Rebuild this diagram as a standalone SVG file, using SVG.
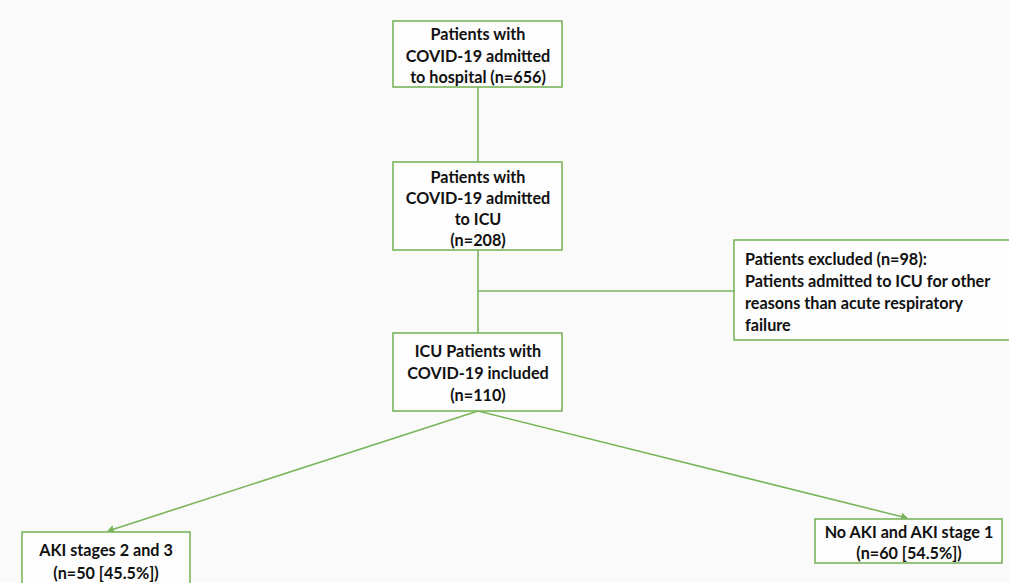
<svg xmlns="http://www.w3.org/2000/svg" width="1009" height="583" viewBox="0 0 1009 583">
<style>
.box{fill:#fdfdfd;stroke:#7ab55c;stroke-width:1.6}
.t{font-family:Lato,"Open Sans","Liberation Sans",sans-serif;font-weight:bold;font-size:16.2px;fill:#111}
.c{text-anchor:middle}
.ln{stroke:#7ab55c;stroke-width:1.6;fill:none}
</style>
<defs>
<marker id="ah" markerWidth="8" markerHeight="8" refX="6" refY="4" orient="auto" markerUnits="userSpaceOnUse">
<path d="M0,0 L7,4 L0,8 Z" fill="#7ab55c"/>
</marker>
</defs>
<rect width="1009" height="583" fill="#fafafa"/>
<g id="connectors">
<line class="ln" x1="478" y1="87" x2="478" y2="162"/>
<line class="ln" x1="478" y1="250" x2="478" y2="333"/>
<line class="ln" x1="478" y1="291" x2="734" y2="291"/>
<line class="ln" x1="478" y1="411" x2="108" y2="531" marker-end="url(#ah)"/>
<line class="ln" x1="478" y1="411" x2="907" y2="518" marker-end="url(#ah)"/>
</g>
<g id="n1">
<rect class="box" x="393" y="21" width="169" height="66"/>
<text class="t c" x="478" y="40">Patients with</text>
<text class="t c" x="478" y="62">COVID-19 admitted</text>
<text class="t c" x="478" y="83">to hospital (n=656)</text>
</g>
<g id="n2">
<rect class="box" x="393" y="162" width="169" height="88"/>
<text class="t c" x="478" y="183">Patients with</text>
<text class="t c" x="478" y="204">COVID-19 admitted</text>
<text class="t c" x="478" y="225">to ICU</text>
<text class="t c" x="478" y="246">(n=208)</text>
</g>
<g id="n3">
<rect class="box" x="393" y="333" width="169" height="78"/>
<text class="t c" x="478" y="357">ICU Patients with</text>
<text class="t c" x="478" y="379">COVID-19 included</text>
<text class="t c" x="478" y="401">(n=110)</text>
</g>
<g id="excluded">
<rect class="box" x="734" y="240" width="285" height="100"/>
<text class="t" x="745" y="265">Patients excluded (n=98):</text>
<text class="t" x="745" y="287">Patients admitted to ICU for other</text>
<text class="t" x="745" y="309">reasons than acute respiratory</text>
<text class="t" x="745" y="331">failure</text>
</g>
<g id="aki">
<rect class="box" x="22" y="532" width="168" height="60"/>
<text class="t c" x="106" y="556">AKI stages 2 and 3</text>
<text class="t c" x="106" y="579">(n=50 [45.5%])</text>
</g>
<g id="noaki">
<rect class="box" x="815" y="519" width="187" height="44"/>
<text class="t c" x="909" y="538">No AKI and AKI stage 1</text>
<text class="t c" x="909" y="559">(n=60 [54.5%])</text>
</g>
</svg>
